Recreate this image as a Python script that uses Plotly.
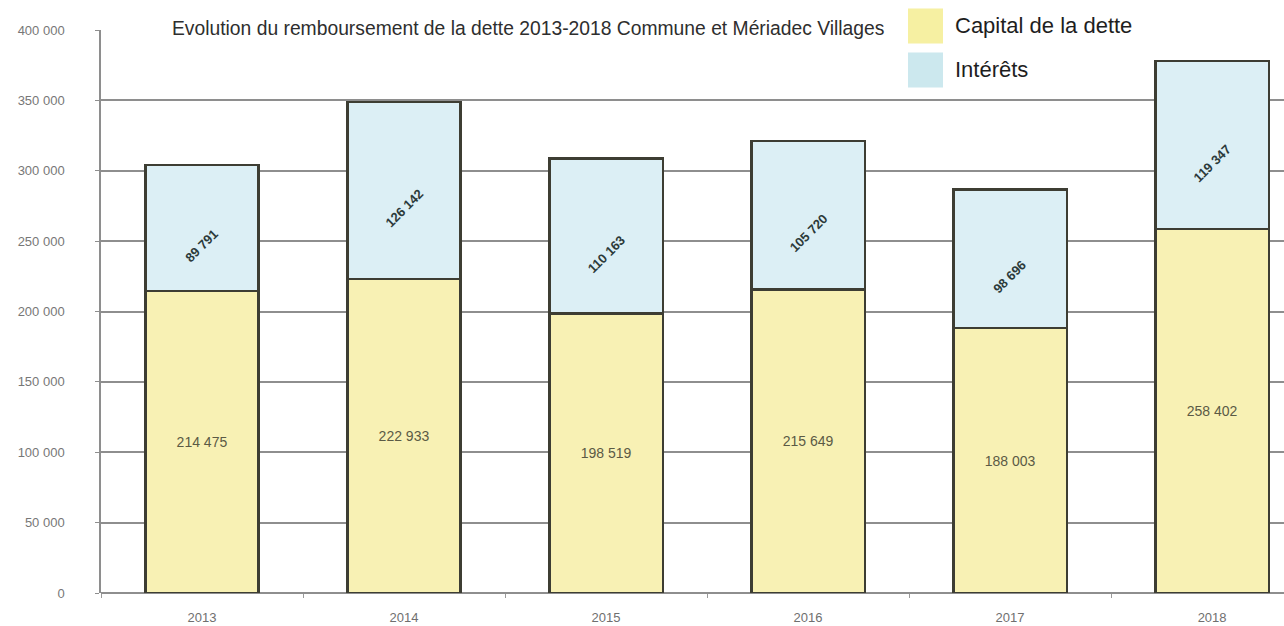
import plotly.graph_objects as go

years = ["2013", "2014", "2015", "2016", "2017", "2018"]
capital = [214475, 222933, 198519, 215649, 188003, 258402]
interets = [89791, 126142, 110163, 105720, 98696, 119347]
y_ticks = [0, 50000, 100000, 150000, 200000, 250000, 300000, 350000, 400000]

title_text = "Evolution du remboursement de la dette 2013-2018 Commune et Mériadec Villages"
legend_labels = ["Capital de la dette", "Intérêts"]

def fmt(v):
    return f"{v:,}".replace(",", " ")

W, H = 1284, 626
L, R, T, B = 101, 0, 29.5, 33

cap_color = "#F8F1B4"
int_color = "#DCEFF5"
cap_leg = "#F6F0A2"
int_leg = "#CCE8EE"
edge = "#3d3d33"
base_font = "Liberation Sans, Arial, sans-serif"

fig = go.Figure()
fig.add_trace(go.Bar(
    x=years, y=capital, name=legend_labels[0],
    marker=dict(color=cap_color, line=dict(color=edge, width=2.2)),
    width=0.56,
    text=[fmt(v) for v in capital],
    textposition="inside", insidetextanchor="middle", textangle=0,
    textfont=dict(family=base_font, size=14, color="#5b5a45"),
    hoverinfo="skip",
))
fig.add_trace(go.Bar(
    x=years, y=interets, name=legend_labels[1],
    marker=dict(color=int_color, line=dict(color=edge, width=2.2)),
    width=0.56,
    hoverinfo="skip",
))

annotations = []
for idx, (c, i) in enumerate(zip(capital, interets)):
    annotations.append(dict(
        x=idx, y=c + i / 2, xref="x", yref="y", text=f"<b>{fmt(i)}</b>",
        showarrow=False, textangle=-45, yshift=-18,
        font=dict(family=base_font, size=13, color="#2c3a3a"),
    ))

def px_x(p):
    return (p - L) / (W - L - R)

def px_y(p):
    return 1 - (p - T) / (H - T - B)

# title
annotations.append(dict(
    x=px_x(170), y=px_y(28), xref="paper", yref="paper", xanchor="left", yanchor="middle",
    text=title_text, showarrow=False,
    font=dict(family=base_font, size=19.3, color="#2e2e2e"),
))
# legend texts
annotations.append(dict(
    x=px_x(953), y=px_y(25), xref="paper", yref="paper", xanchor="left", yanchor="middle",
    text=legend_labels[0], showarrow=False,
    font=dict(family=base_font, size=22, color="#1e1e1e"),
))
annotations.append(dict(
    x=px_x(953), y=px_y(69), xref="paper", yref="paper", xanchor="left", yanchor="middle",
    text=legend_labels[1], showarrow=False,
    font=dict(family=base_font, size=22, color="#1e1e1e"),
))

shapes = [
    # white band hiding the top gridline behind title and legend
    dict(type="rect", xref="paper", yref="paper", x0=px_x(163), x1=1.0,
         y0=px_y(45), y1=1.1, fillcolor="white", line=dict(width=0), layer="above"),
    dict(type="rect", xref="paper", yref="paper", x0=px_x(908), x1=px_x(943),
         y0=px_y(43), y1=px_y(8), fillcolor=cap_leg, line=dict(width=0), layer="above"),
    dict(type="rect", xref="paper", yref="paper", x0=px_x(908), x1=px_x(943),
         y0=px_y(87), y1=px_y(52), fillcolor=int_leg, line=dict(width=0), layer="above"),
]

fig.update_layout(
    width=W, height=H,
    barmode="stack",
    showlegend=False,
    plot_bgcolor="white", paper_bgcolor="white",
    margin=dict(l=L, r=R, t=T, b=B, pad=0),
    separators=", ",
    annotations=annotations,
    shapes=shapes,
    xaxis=dict(
        type="category", range=[-0.5, 5.356],
        showgrid=False, showline=False,
        ticks="outside", tickson="boundaries", ticklen=4, tickcolor="#9a9a9a",
        ticklabelstandoff=15,
        tickfont=dict(family=base_font, size=13, color="#6f6f6f"),
    ),
    yaxis=dict(
        range=[0, 400000], tickvals=y_ticks, tickformat=",.0f",
        showgrid=True, gridcolor="#8e8e8e", gridwidth=1.5,
        zeroline=True, zerolinecolor="#8e8e8e", zerolinewidth=1.5,
        showline=True, linecolor="#8e8e8e", linewidth=1.5,
        ticks="outside", ticklen=4, tickcolor="#8e8e8e",
        ticklabelstandoff=28,
        tickfont=dict(family=base_font, size=13, color="#777777"),
    ),
)

fig.write_html(
    "out.html",
    config={"displayModeBar": False},
    post_script="document.body.style.margin='0px';document.body.style.overflow='hidden';",
)
